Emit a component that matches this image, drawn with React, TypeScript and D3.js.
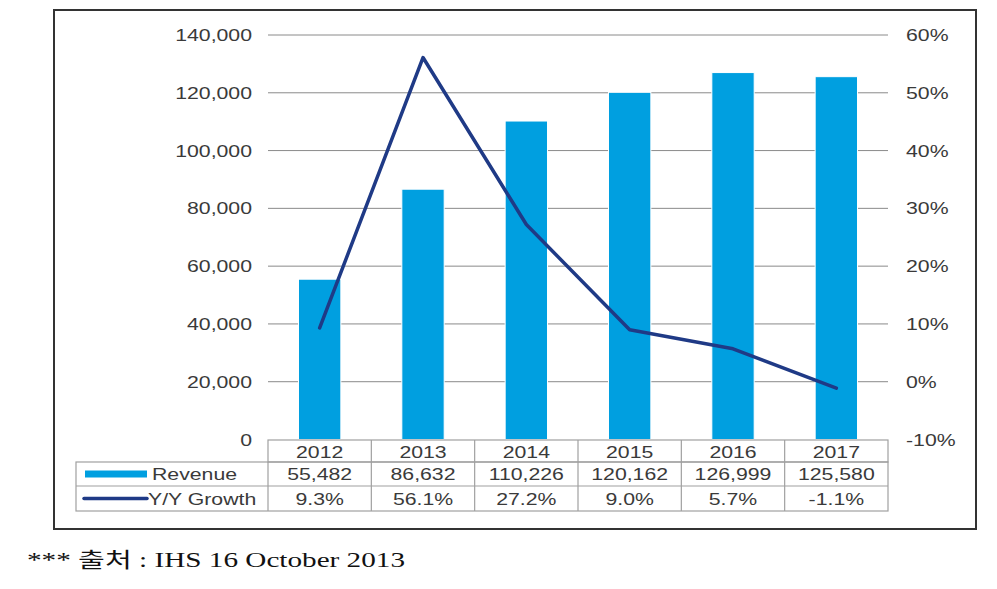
import React, { useEffect, useRef } from 'react';
import * as d3 from 'd3';

const years = ['2012', '2013', '2014', '2015', '2016', '2017'];
const revenue = [55482, 86632, 110226, 120162, 126999, 125580];
const growth = [9.3, 56.1, 27.2, 9.0, 5.7, -1.1];
const leftTicks = [0, 20000, 40000, 60000, 80000, 100000, 120000, 140000];
const rightTicks = [-10, 0, 10, 20, 30, 40, 50, 60];
const rowNames = ['Revenue', 'Y/Y Growth'];

const BAR = '#009fe0';
const LINE = '#1f3a86';
const TXT = '#3a3a3a';
const FONT = '"Liberation Sans", Arial, sans-serif';

function label(g, x, y, text, anchor) {
  // the original text looks stretched sideways
  g.append('text')
    .attr('transform', `translate(${x},${y}) scale(1.25,1)`)
    .attr('text-anchor', anchor)
    .attr('dy', '0.36em')
    .style('font-family', FONT)
    .style('font-size', '17px')
    .style('fill', TXT)
    .text(text);
}

function drawChart(node) {
  const svg = d3.select(node);
  svg.selectAll('*').remove();

  const left = 268, right = 888, top = 35, bottom = 439.5;
  const tableLeft = 76;
  const rows = [440, 462, 486, 511];

  const x = d3.scaleBand().domain(years).range([left, right]).padding(0);
  const yL = d3.scaleLinear().domain([0, 140000]).range([bottom, top]);
  const yR = d3.scaleLinear().domain([-10, 60]).range([bottom, top]);
  const fmt = d3.format(',');

  // outer frame
  svg.append('rect')
    .attr('x', 54).attr('y', 10).attr('width', 922).attr('height', 519)
    .attr('fill', 'white').attr('stroke', '#333').attr('stroke-width', 2);

  // gridlines
  svg.append('g').selectAll('line')
    .data(leftTicks.filter(d => d > 0))
    .enter().append('line')
    .attr('x1', left).attr('x2', right)
    .attr('y1', d => yL(d)).attr('y2', d => yL(d))
    .attr('stroke', '#8a8a8a').attr('stroke-width', 1);

  // bars
  const bw = x.bandwidth() * 0.41;
  svg.append('g').selectAll('rect')
    .data(years)
    .enter().append('rect')
    .attr('x', (d) => x(d) + x.bandwidth() / 2 - bw / 2)
    .attr('y', (d, i) => yL(revenue[i]))
    .attr('width', bw)
    .attr('height', (d, i) => bottom - yL(revenue[i]))
    .attr('fill', BAR)
    .attr('stroke', 'white').attr('stroke-width', 1);

  // growth line
  const line = d3.line()
    .x((d, i) => x(years[i]) + x.bandwidth() / 2)
    .y(d => yR(d));
  svg.append('path')
    .datum(growth)
    .attr('d', line)
    .attr('fill', 'none')
    .attr('stroke', LINE)
    .attr('stroke-width', 3.5)
    .attr('stroke-linejoin', 'round')
    .attr('stroke-linecap', 'round');

  const g = svg.append('g');
  leftTicks.forEach(t => label(g, 252, yL(t), fmt(t), 'end'));
  rightTicks.forEach(t => label(g, 906, yR(t), t + '%', 'start'));

  // data table
  const grid = svg.append('g')
    .attr('stroke', '#a0a0a0').attr('stroke-width', 1.2).attr('fill', 'none');
  grid.append('rect').attr('x', left).attr('y', rows[0]).attr('width', right - left).attr('height', rows[1] - rows[0]);
  grid.append('rect').attr('x', tableLeft).attr('y', rows[1]).attr('width', right - tableLeft).attr('height', rows[3] - rows[1]);
  grid.append('line').attr('x1', tableLeft).attr('x2', right).attr('y1', rows[2]).attr('y2', rows[2]);
  years.forEach((yr, i) => {
    if (i > 0) {
      grid.append('line').attr('x1', x(yr)).attr('x2', x(yr)).attr('y1', rows[0]).attr('y2', rows[3]);
    }
  });
  grid.append('line').attr('x1', left).attr('x2', left).attr('y1', rows[1]).attr('y2', rows[3]);

  years.forEach((yr, i) => {
    const cx = x(yr) + x.bandwidth() / 2;
    label(g, cx, (rows[0] + rows[1]) / 2 + 1, yr, 'middle');
    label(g, cx, (rows[1] + rows[2]) / 2, fmt(revenue[i]), 'middle');
    label(g, cx, (rows[2] + rows[3]) / 2, growth[i].toFixed(1) + '%', 'middle');
  });

  // legend keys in the row headers
  svg.append('rect')
    .attr('x', 85).attr('y', (rows[1] + rows[2]) / 2 - 3.5)
    .attr('width', 62).attr('height', 7).attr('fill', BAR);
  svg.append('line')
    .attr('x1', 84).attr('x2', 147)
    .attr('y1', (rows[2] + rows[3]) / 2).attr('y2', (rows[2] + rows[3]) / 2)
    .attr('stroke', LINE).attr('stroke-width', 3.5).attr('stroke-linecap', 'round');
  label(g, 152, (rows[1] + rows[2]) / 2, rowNames[0], 'start');
  label(g, 148, (rows[2] + rows[3]) / 2, rowNames[1], 'start');

  // source note
  svg.append('text')
    .attr('x', 27).attr('y', 567)
    .attr('textLength', 378)
    .attr('lengthAdjust', 'spacingAndGlyphs')
    .style('font-family', '"Liberation Serif", "Noto Sans CJK KR", serif')
    .style('font-size', '21px')
    .style('fill', '#111')
    .text('*** 출처 : IHS 16 October 2013');

  return svg.node();
}

const App = () => {
  const ref = useRef(null);
  useEffect(() => {
    drawChart(ref.current);
  }, []);

  return (
    <svg ref={ref} width={997} height={589}
      style={{ position: 'absolute', left: 0, top: 0, background: 'white' }} />
  );
};

export default App;
